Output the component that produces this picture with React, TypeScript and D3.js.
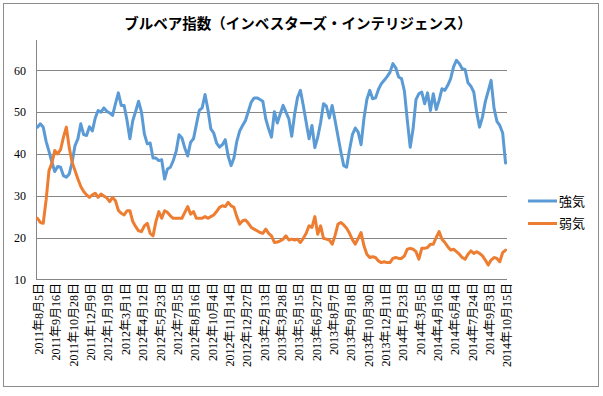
import React, { useEffect, useRef } from "react";
import * as d3 from "d3";

const title = "ブルベア指数（インベスターズ・インテリジェンス）";
const seriesNames = ["強気", "弱気"];
const seriesColors = ["#5b9bd5", "#ed7d31"];
const yTicks = [10, 20, 30, 40, 50, 60];
const labelStep = 6;

const tickLabels = [
  "2011年8月5日", "2011年9月16日", "2011年10月28日", "2011年12月9日",
  "2012年1月19日", "2012年3月1日", "2012年4月12日", "2012年5月23日",
  "2012年7月5日", "2012年8月16日", "2012年10月4日", "2012年11月14日",
  "2012年12月27日", "2013年2月13日", "2013年3月28日", "2013年5月15日",
  "2013年6月27日", "2013年8月7日", "2013年9月18日", "2013年10月30日",
  "2013年12月11日", "2014年1月23日", "2014年3月5日", "2014年4月16日",
  "2014年6月4日", "2014年7月24日", "2014年9月3日", "2014年10月15日",
];

// 強気 (weekly)
const bullish = [
  46.4, 47.2, 46.4, 43, 40.6, 38, 35.8, 37, 36.8, 34.8,
  34.4, 35.2, 38, 42, 43.6, 47.2, 44.6, 44.4, 46.5, 45.5,
  48.6, 50.4, 50, 51, 50.2, 49.8, 49.2, 52, 54.6, 51.6,
  51.6, 48, 43.6, 48, 50.2, 52.6, 50, 44.8, 42.4, 42.6,
  39, 39, 38.4, 38.6, 34, 36.4, 36.8, 38.4, 40.6, 44.6,
  43.8, 41.4, 39.5, 42.8, 43.6, 47, 50.4, 51, 54.2, 50.6,
  46, 45, 42.6, 41.6, 42.2, 43.4, 39.5, 37.2, 39, 43,
  45.5, 46.8, 48, 50.2, 52.4, 53.4, 53.4, 53, 52.6, 48.4,
  46, 44, 50.1, 47.4, 49.5, 51.6, 50, 48.4, 44.2, 49.5,
  53.5, 55.2, 51.6, 47.6, 43.6, 46.8, 41.5, 44, 47.5, 52,
  51.4, 48.6, 51.6, 48, 44.2, 40.5, 37.2, 36.8, 41, 44.6,
  46.2, 45.2, 42.2, 48.5, 53, 55.2, 53.2, 53.4, 55.4, 56.8,
  57.6, 58.5, 59.5, 61.6, 60.6, 58.4, 58, 55, 48, 41.6,
  46, 53, 54.4, 54.8, 52, 54.6, 50.4, 54.4, 50.6, 52.8,
  55.6, 55.2, 56.4, 58, 60.8, 62.4, 61.6, 60.4, 60.2, 57,
  56.2, 54.8, 50, 46.4, 48.8, 52.5, 55, 57.6, 51, 47.8,
  46.8, 45, 37.8,
];

// 弱気 (weekly)
const bearish = [
  24.6, 23.6, 23.4, 29, 36, 37.8, 40.8, 40, 41, 44,
  46.4, 41.5, 38, 36, 34, 32.2, 31, 30.2, 29.6, 30.2,
  30.6, 29.6, 30.4, 29.9, 29.5, 28.6, 29.6, 28.8, 26.5, 25.8,
  25.4, 26.4, 26.4, 23.8, 22.6, 21.6, 21.4, 22.8, 23.4, 21,
  20.4, 23.8, 26.2, 24.6, 26.4, 26, 25.2, 24.6, 24.6, 24.6,
  24.6, 26, 27.4, 25.6, 26.2, 24.6, 24.6, 24.6, 25, 24.6,
  25, 25.4, 26.2, 27.2, 27.6, 27.4, 28.4, 27.6, 27.2, 25,
  23.2, 24, 24.2, 23.4, 22.4, 22, 21.6, 21.2, 21, 22,
  21, 20.4, 18.8, 18.9, 19.2, 19.6, 20.4, 19.4, 19.6, 19.4,
  19.6, 18.8, 19.8, 21, 22.8, 22.4, 25, 20.8, 22.8, 19.8,
  19.6, 19.4, 18.4, 20.5, 23.2, 23.6, 23, 22.2, 21, 19.5,
  18.4, 19.8, 21.2, 18, 16, 15.2, 15.4, 15.2, 14.4, 14,
  14.2, 14, 14, 15, 15.2, 15, 15, 15.6, 17.2, 17.4,
  17.2, 16.6, 14.8, 17.4, 17.4, 17.6, 18.4, 18.4, 20, 21.4,
  19.6, 18.8, 17.8, 17, 17.2, 16.6, 16, 15.2, 14.8, 16,
  16.8, 16.2, 16.6, 16.2, 15.6, 14.6, 13.4, 14.6, 15.2, 15,
  14.2, 16.4, 17,
];

const App = () => {
  const ref = useRef<HTMLDivElement>(null);

  useEffect(() => {
    document.body.style.margin = "0";
    drawChart();
  }, []);

  const drawChart = () => {
    const width = 603,
      height = 396;
    const left = 36,
      right = 507,
      top = 40;

    const svg = d3
      .select(ref.current)
      .html("")
      .append("svg")
      .attr("width", width)
      .attr("height", height)
      .style("display", "block");

    // outer frame
    svg
      .append("rect")
      .attr("x", 3.5)
      .attr("y", 3.5)
      .attr("width", 595)
      .attr("height", 383)
      .attr("fill", "white")
      .attr("stroke", "#8c8c8c");

    svg
      .append("text")
      .attr("x", 298)
      .attr("y", 29)
      .attr("text-anchor", "middle")
      .style("font-family", '"Noto Sans CJK JP", sans-serif')
      .style("font-weight", "bold")
      .style("font-size", "14.5px")
      .text(title);

    const x = d3
      .scaleBand<number>()
      .domain(d3.range(bullish.length))
      .range([left, right]);
    const cx = (i: number) => (x(i) as number) + x.bandwidth() / 2;

    const y = d3.scaleLinear().domain([10, 60]).range([279.3, 70.3]);

    // gridlines
    svg
      .selectAll("grid")
      .data(yTicks.slice(1))
      .join("line")
      .attr("x1", left)
      .attr("x2", right)
      .attr("y1", (d) => Math.round(y(d)) + 0.5)
      .attr("y2", (d) => Math.round(y(d)) + 0.5)
      .attr("stroke", "#868686")
      .attr("stroke-width", 1);

    // axes
    const y0 = Math.round(y(10)) + 0.5;
    svg
      .append("line")
      .attr("x1", left)
      .attr("x2", right)
      .attr("y1", y0)
      .attr("y2", y0)
      .attr("stroke", "#868686");
    svg
      .append("line")
      .attr("x1", left + 0.5)
      .attr("x2", left + 0.5)
      .attr("y1", top)
      .attr("y2", y0)
      .attr("stroke", "#868686");

    svg
      .selectAll("ylab")
      .data(yTicks)
      .join("text")
      .attr("x", 26)
      .attr("y", (d) => y(d))
      .attr("dy", "0.35em")
      .attr("text-anchor", "end")
      .style("font-family", '"Liberation Serif", serif')
      .style("font-size", "12px")
      .text((d) => d);

    svg
      .selectAll("xlab")
      .data(tickLabels)
      .join("text")
      .attr(
        "transform",
        (d, j) => `translate(${cx(j * labelStep) + 1.5}, 283) rotate(-90)`
      )
      .attr("dy", "0.35em")
      .attr("text-anchor", "end")
      .style("font-family", '"Liberation Serif", "Noto Sans CJK JP", serif')
      .style("font-size", "12px")
      .text((d) => d);

    const line = d3
      .line<number>()
      .x((d, i) => cx(i))
      .y((d) => y(d));

    [bullish, bearish].forEach((values, k) => {
      svg
        .append("path")
        .datum(values)
        .attr("d", line)
        .attr("fill", "none")
        .attr("stroke", seriesColors[k])
        .attr("stroke-width", 3)
        .attr("stroke-linejoin", "round")
        .attr("stroke-linecap", "round");
    });

    // legend
    const legend = svg
      .selectAll("legend")
      .data(seriesNames)
      .join("g")
      .attr("transform", (d, k) => `translate(528, ${201 + k * 22.5})`);
    legend
      .append("line")
      .attr("x1", 0)
      .attr("x2", 29)
      .attr("stroke", (d, k) => seriesColors[k])
      .attr("stroke-width", 3);
    legend
      .append("text")
      .attr("x", 31)
      .attr("dy", "0.35em")
      .style("font-family", '"Noto Sans CJK JP", sans-serif')
      .style("font-size", "13px")
      .text((d) => d);
  };

  return <div ref={ref}></div>;
};

export default App;
